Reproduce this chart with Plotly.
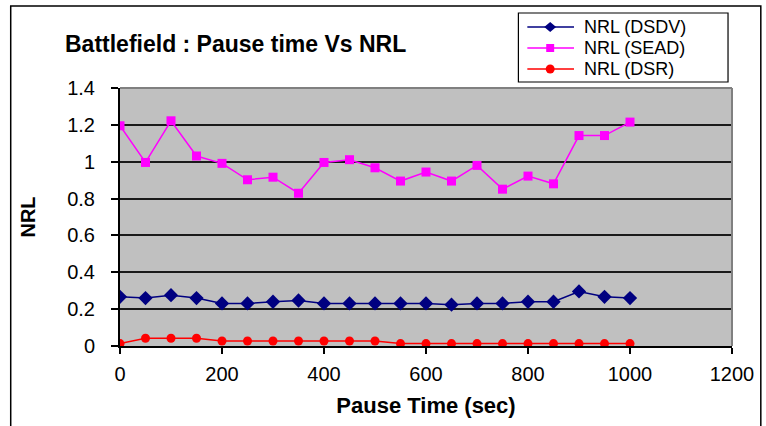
import plotly.graph_objects as go

pause_time = [0, 50, 100, 150, 200, 250, 300, 350, 400, 450, 500,
              550, 600, 650, 700, 750, 800, 850, 900, 950, 1000]
nrl_dsdv = [0.267, 0.26, 0.276, 0.26, 0.231, 0.231, 0.24, 0.247, 0.231, 0.231, 0.231,
            0.231, 0.231, 0.224, 0.231, 0.231, 0.24, 0.24, 0.296, 0.267, 0.26]
nrl_sead = [1.195, 0.996, 1.222, 1.031, 0.991, 0.902, 0.916, 0.829, 0.996, 1.011, 0.967,
            0.895, 0.944, 0.895, 0.98, 0.851, 0.922, 0.88, 1.142, 1.142, 1.215]
nrl_dsr = [0.013, 0.042, 0.042, 0.042, 0.027, 0.027, 0.027, 0.027, 0.027, 0.027, 0.027,
           0.013, 0.013, 0.013, 0.013, 0.013, 0.013, 0.013, 0.013, 0.013, 0.013]
x_ticks = [0, 200, 400, 600, 800, 1000, 1200]
y_ticks = [0, 0.2, 0.4, 0.6, 0.8, 1, 1.2, 1.4]
series_names = ["NRL (DSDV)", "NRL (SEAD)", "NRL (DSR)"]
series_colors = ["#000080", "#FF00FF", "#FF0000"]
series_symbols = ["diamond", "square", "circle"]

FONT = "Arial, Liberation Sans, sans-serif"
W, H = 766, 426
L, R, T, B = 120, 30, 88, 80
pw, ph = W - L - R, H - T - B


def px_x(px):
    return (px - L) / pw


def px_y(py):
    return (H - B - py) / ph


fig = go.Figure()
for name, yv, col, sym, size in zip(series_names, [nrl_dsdv, nrl_sead, nrl_dsr],
                                    series_colors, series_symbols, [11, 9, 9]):
    fig.add_trace(go.Scatter(x=pause_time, y=yv, name=name, mode="lines+markers",
                             line=dict(color=col, width=1.5),
                             marker=dict(symbol=sym, size=size, color=col),
                             showlegend=False))

# manual legend (box, samples, labels)
shapes = [
    dict(type="rect", xref="paper", yref="paper", x0=px_x(10), x1=px_x(765),
         y0=px_y(432), y1=px_y(6), line=dict(color="black", width=1.5),
         fillcolor="rgba(0,0,0,0)", layer="below"),
    dict(type="line", xref="paper", yref="paper", x0=0, x1=1, y0=1, y1=1,
         line=dict(color="#808080", width=2)),
    dict(type="line", xref="paper", yref="paper", x0=1, x1=1, y0=0, y1=1,
         line=dict(color="#808080", width=2)),
    dict(type="rect", xref="paper", yref="paper", x0=px_x(521), x1=px_x(732),
         y0=px_y(82), y1=px_y(13), line=dict(color="black", width=1.2),
         fillcolor="white"),
]
annotations = []
rows = [27, 48, 69]
mx = 553
for name, col, sym, ry in zip(series_names, series_colors, series_symbols, rows):
    shapes.append(dict(type="line", xref="paper", yref="paper", x0=px_x(530), x1=px_x(577),
                       y0=px_y(ry), y1=px_y(ry), line=dict(color=col, width=1.5)))
    if sym == "diamond":
        path = "M {} {} L {} {} L {} {} L {} {} Z".format(
            px_x(mx - 6), px_y(ry), px_x(mx), px_y(ry - 5),
            px_x(mx + 6), px_y(ry), px_x(mx), px_y(ry + 5))
        shapes.append(dict(type="path", xref="paper", yref="paper", path=path,
                           fillcolor=col, line=dict(color=col, width=0)))
    elif sym == "square":
        shapes.append(dict(type="rect", xref="paper", yref="paper",
                           x0=px_x(mx - 4), x1=px_x(mx + 4), y0=px_y(ry + 4), y1=px_y(ry - 4),
                           fillcolor=col, line=dict(color=col, width=0)))
    else:
        shapes.append(dict(type="circle", xref="paper", yref="paper",
                           x0=px_x(mx - 4.5), x1=px_x(mx + 4.5), y0=px_y(ry + 4.5),
                           y1=px_y(ry - 4.5), fillcolor=col, line=dict(color=col, width=0)))
    annotations.append(dict(text=name, xref="paper", yref="paper", x=px_x(586), y=px_y(ry),
                            xanchor="left", yanchor="middle", showarrow=False,
                            borderpad=0,
                            font=dict(size=18, family=FONT, color="black")))

fig.update_layout(
    width=W, height=H,
    margin=dict(l=L, r=R, t=T, b=B),
    paper_bgcolor="white",
    plot_bgcolor="#C0C0C0",
    font=dict(family=FONT, color="black", size=20),
    showlegend=False,
    title=dict(text="<b>Battlefield : Pause time Vs NRL</b>", x=65 / W, xanchor="left",
               y=1 - 44 / H, yanchor="middle", font=dict(size=23, family=FONT)),
    xaxis=dict(range=[0, 1200], tickvals=x_ticks, showgrid=False, zeroline=False,
               showline=True, linecolor="black", linewidth=2, ticks="outside", ticklen=6,
               tickcolor="black", tickwidth=1.5, tickfont=dict(size=20),
               ticklabelstandoff=3,
               title=dict(text="<b>Pause Time (sec)</b>", font=dict(size=22), standoff=14)),
    yaxis=dict(range=[0, 1.4], tickvals=y_ticks, showgrid=True, gridcolor="#1a1a1a",
               gridwidth=1.5, zeroline=False, showline=True, linecolor="black", linewidth=2,
               ticks="outside", ticklen=7, tickcolor="black", tickwidth=1.5,
               tickfont=dict(size=20), ticklabelstandoff=12,
               title=dict(text="<b>NRL</b>", font=dict(size=20), standoff=26)),
    shapes=shapes,
    annotations=annotations,
)

fig.write_html("out.html")
